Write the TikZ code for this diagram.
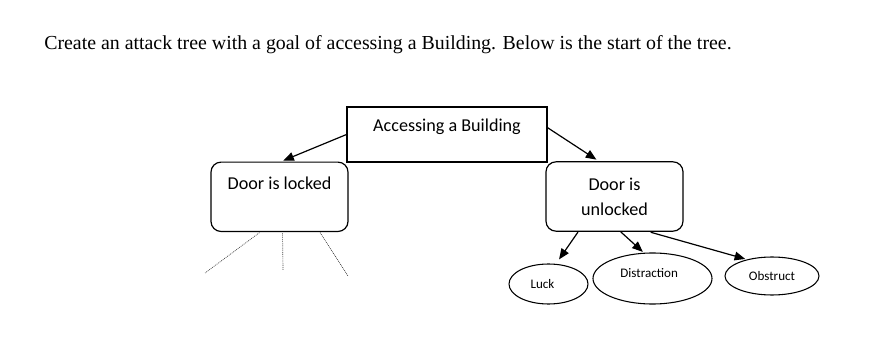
\documentclass[tikz,border=0pt]{standalone}
\usepackage{fontspec}
\setmainfont{Liberation Serif}
\newfontfamily\calfont{Carlito}
\usetikzlibrary{arrows.meta,shapes.geometric}

\begin{document}
\begin{tikzpicture}[x=0.75pt, y=-0.75pt,
  goalbox/.style={draw, line width=1.5pt, inner sep=0pt, outer sep=0pt,
    minimum width=150pt, minimum height=41.25pt,
    font=\calfont\fontsize{13.6}{18.75}\selectfont},
  subgoal/.style={draw, line width=0.9pt, rounded corners=7.5pt, inner sep=0pt,
    outer sep=0pt, minimum width=102.75pt, minimum height=52pt, align=center,
    font=\calfont\fontsize{13.6}{18.75}\selectfont},
  leaf/.style={draw, ellipse, line width=0.8pt, inner sep=0pt, outer sep=0pt,
    font=\calfont\fontsize{9.8}{11}\selectfont},
  arrow/.style={-{Triangle[length=8pt,width=6.5pt]}, line width=0.9pt},
  branch/.style={line width=0.5pt, black!75, dash pattern=on 0.7pt off 0.7pt}
]
  \useasboundingbox (0,0) rectangle (879,356);

  \node[anchor=base west, inner sep=0pt, font=\fontsize{14.9}{17}\selectfont] (task) at (44,49.5)
    {Create an attack tree with a goal of accessing a Building. Below is the start of the tree.};

  % goal and sub-goals
  \node[goalbox, text height=8.8pt, text depth=13.2pt] (root) at (447,134.3) {Accessing a Building};
  \node[subgoal, text height=8.8pt, text depth=20pt] (locked) at (279.5,196.8) {Door is locked};
  \node[subgoal] (unlocked) at (614.5,196.5) {Door is\\unlocked};

  % leaves
  \node[leaf, minimum width=59.25pt, minimum height=30pt] (luck) at (548.5,284) {Luck\kern9pt};
  \node[leaf, minimum width=89.25pt, minimum height=38.25pt, text height=6.3pt, text depth=7.5pt]
    (distraction) at (652.5,278.5) {Distraction\kern5pt};
  \node[leaf, minimum width=70.5pt, minimum height=28.5pt] (obstruct) at (772,276) {Obstruct};

  \draw[arrow, shorten >=3pt] (root.west) -- (locked.north);
  \draw[arrow, shorten >=3pt] (root.4) -- (unlocked.113);
  \draw[arrow, shorten <=0.8pt, shorten >=4.5pt] (unlocked.224.6) -- (luck.70);
  \draw[arrow, shorten <=0.8pt, shorten >=1.5pt] (unlocked.-81) -- (distraction.108);
  \draw[arrow, shorten <=3pt, shorten >=2pt] (unlocked.-47) -- (obstruct.146);

  % unfinished branches
  \coordinate (d1) at (205,273);
  \coordinate (d2) at (283,270);
  \coordinate (d3) at (348,276);
  \draw[branch, shorten <=1.5pt] (locked.242.4) -- (d1);
  \draw[branch, shorten <=1.5pt] (locked.-85) -- (d2);
  \draw[branch, shorten <=1pt] (locked.-41) -- (d3);
\end{tikzpicture}
\end{document}
